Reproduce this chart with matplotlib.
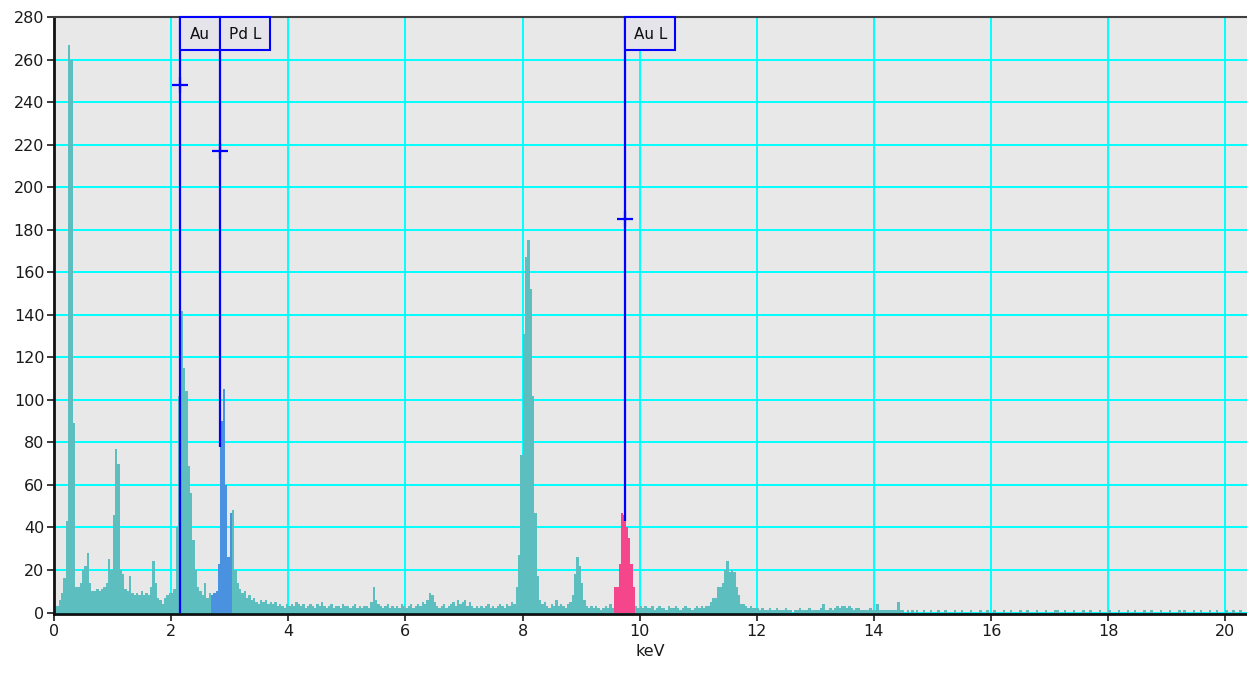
import numpy as np
import matplotlib
matplotlib.use("Agg")
import matplotlib.pyplot as plt
from matplotlib.patches import Rectangle

# spectrum, 0.04 keV channels, one row per keV
bin_width = 0.04
counts_rows = [
    [1, 3, 6, 9, 16, 43, 267, 260, 89, 12, 12, 14, 20, 22, 28, 14, 10, 10, 11, 10, 11, 12, 14, 25, 20],   # 0 keV
    [46, 77, 70, 20, 18, 11, 10, 17, 9, 8, 9, 8, 10, 8, 9, 8, 12, 24, 14, 7, 6, 4, 7, 8, 9],             # 1
    [9, 11, 40, 102, 142, 115, 104, 69, 56, 34, 20, 12, 10, 8, 14, 7, 9, 8, 9, 10, 23, 90, 105, 60, 26],  # 2
    [47, 48, 20, 14, 11, 9, 10, 7, 8, 6, 7, 5, 4, 6, 5, 6, 4, 5, 4, 5, 3, 4, 3, 2, 4],                  # 3
    [3, 4, 3, 5, 4, 3, 4, 2, 3, 4, 3, 2, 4, 3, 5, 3, 2, 3, 4, 2, 3, 3, 2, 4, 3],                        # 4
    [3, 2, 3, 4, 2, 3, 2, 3, 3, 2, 5, 12, 6, 4, 3, 2, 3, 4, 2, 3, 2, 3, 2, 4, 3],                       # 5
    [2, 3, 4, 2, 3, 4, 3, 5, 4, 6, 9, 8, 5, 3, 2, 3, 4, 2, 3, 4, 5, 3, 6, 4, 5],                        # 6
    [6, 3, 5, 3, 2, 3, 2, 3, 2, 3, 4, 2, 3, 2, 3, 4, 3, 2, 4, 3, 5, 4, 12, 27, 74],                     # 7
    [131, 167, 175, 152, 102, 47, 17, 6, 4, 5, 3, 2, 4, 3, 6, 3, 4, 3, 2, 4, 5, 8, 18, 26, 22],          # 8
    [14, 6, 3, 2, 3, 2, 3, 2, 1, 2, 3, 2, 4, 2, 12, 12, 23, 47, 46, 40, 35, 23, 12, 3, 2],              # 9
    [3, 2, 3, 2, 2, 3, 1, 2, 3, 2, 2, 1, 3, 2, 2, 3, 2, 1, 2, 3, 2, 2, 1, 2, 3],                        # 10
    [2, 3, 2, 3, 3, 5, 7, 7, 12, 12, 14, 20, 24, 19, 20, 19, 12, 8, 4, 4, 3, 2, 3, 2, 2],               # 11
    [2, 1, 2, 1, 1, 2, 1, 1, 2, 1, 1, 1, 2, 1, 1, 0, 1, 1, 2, 1, 1, 1, 2, 1, 1],                        # 12
    [1, 1, 2, 4, 1, 1, 2, 1, 2, 3, 2, 3, 3, 2, 3, 2, 1, 2, 2, 1, 1, 1, 1, 2, 1],                        # 13
    [1, 4, 1, 1, 1, 1, 1, 1, 1, 1, 5, 1, 1, 0, 1, 0, 1, 0, 1, 0, 0, 1, 0, 0, 1],                        # 14
    [0, 0, 1, 0, 0, 1, 0, 0, 0, 1, 0, 0, 1, 0, 0, 0, 1, 0, 0, 0, 1, 0, 0, 1, 0],                        # 15
    [0, 1, 0, 0, 0, 1, 0, 0, 1, 0, 0, 0, 1, 0, 0, 1, 0, 0, 0, 1, 0, 0, 0, 1, 0],                        # 16
    [0, 0, 1, 1, 0, 0, 1, 0, 0, 0, 1, 0, 0, 0, 1, 0, 0, 1, 0, 0, 0, 1, 0, 0, 0],                        # 17
    [1, 0, 0, 0, 1, 0, 0, 0, 1, 0, 0, 1, 0, 0, 0, 1, 0, 0, 1, 0, 0, 0, 1, 0, 0],                        # 18
    [0, 1, 0, 0, 0, 1, 0, 1, 0, 0, 0, 1, 0, 0, 1, 0, 0, 0, 1, 0, 0, 1, 0, 0, 0],                        # 19
    [1, 0, 0, 1, 0, 0, 1, 0, 0],                                                                      # 20
]

# element markers
line_names = ["Au", "Pd L", "Au L"]
line_kev = [2.15, 2.835, 9.75]
line_bottom = [0, 78, 43]
cross_y = [248, 217, 185]
box_right = [2.835, 3.69, 10.61]

# highlighted regions of interest (start, end keV)
roi_ranges = [(2.68, 3.04), (9.56, 9.92)]
roi_colors = ["#4a92e0", "#f5468c"]

counts = np.array([c for row in counts_rows for c in row], dtype=float)
edges = np.arange(len(counts) + 1) * bin_width

teal = "#5cbebe"
line_blue = "#0000ff"

fig = plt.figure(figsize=(12.47, 6.75), dpi=100)
ax = fig.add_axes([54 / 1247, 61 / 675, 1193 / 1247, 597 / 675])
ax.set_facecolor("#e8e8e8")

ax.stairs(counts, edges, fill=True, color=teal, linewidth=0, zorder=2)
for (a, b), col in zip(roi_ranges, roi_colors):
    i0 = int(round(a / bin_width))
    i1 = int(round(b / bin_width))
    ax.stairs(counts[i0:i1], edges[i0:i1 + 1], fill=True, color=col, linewidth=0, zorder=3)

ax.vlines(line_kev, line_bottom, 280, colors=line_blue, linewidth=1.6, zorder=4)
ax.plot(line_kev, cross_y, linestyle="none", marker="+", markersize=11,
        markeredgewidth=1.6, color=line_blue, zorder=5)

box_bottom = 264.5
for name, x0, x1 in zip(line_names, line_kev, box_right):
    ax.add_patch(Rectangle((x0, box_bottom), x1 - x0, 280 - box_bottom,
                           facecolor="#e4e4ea", edgecolor=line_blue, linewidth=1.5,
                           zorder=6, clip_on=False))
    ax.text((x0 + x1) / 2, (box_bottom + 280) / 2 - 0.5, name, ha="center", va="center",
            fontsize=11, color="#101010", zorder=7)

ax.set_xlim(0, 20.37)
ax.set_ylim(-0.7, 280)
ax.set_xticks(np.arange(0, 21, 2))
ax.set_yticks(np.arange(0, 281, 20))
ax.grid(True, color="#00ffff", linewidth=1.4)
ax.set_axisbelow(True)
ax.tick_params(axis="both", direction="out", length=5, width=1.2, labelsize=11.5,
               colors="#1a1a1a", pad=2)
ax.set_xlabel("keV", fontsize=11.5, color="#1a1a1a", labelpad=4)

for s in ["left", "bottom"]:
    ax.spines[s].set_color("#111111")
    ax.spines[s].set_linewidth(2)
ax.spines["top"].set_color("#404040")
ax.spines["top"].set_linewidth(1.5)
ax.spines["right"].set_visible(False)

fig.savefig("out.png", dpi=100, facecolor="white")
